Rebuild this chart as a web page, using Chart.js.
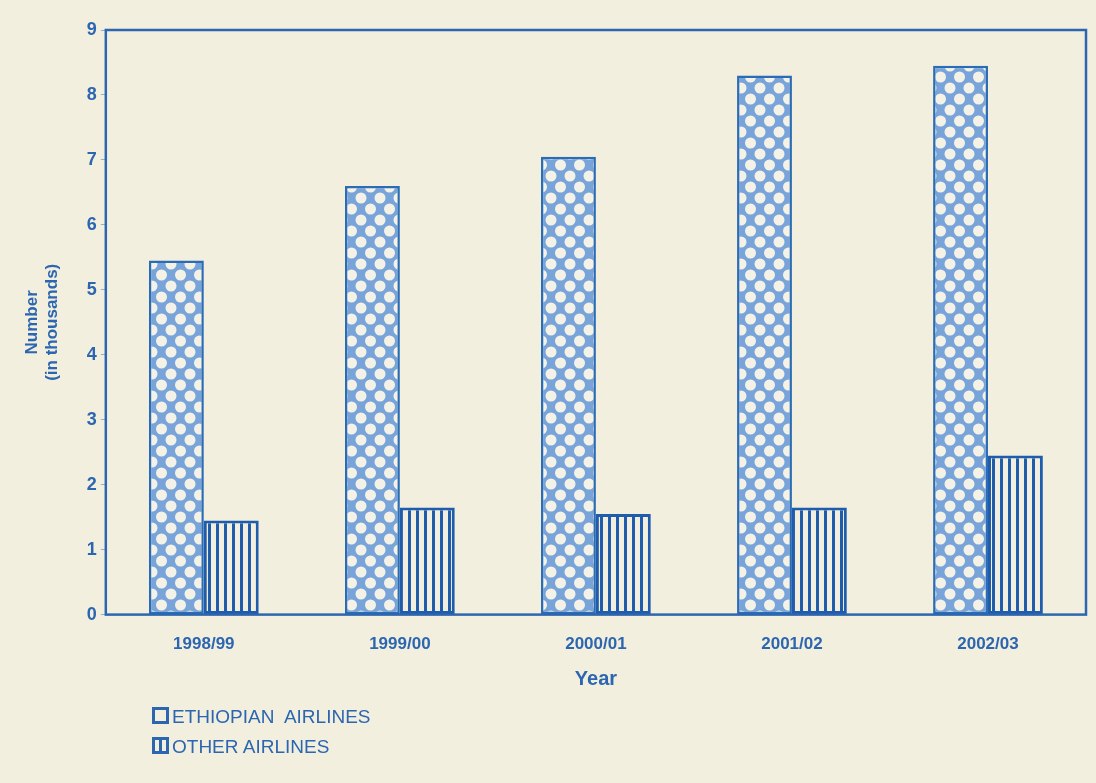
<!DOCTYPE html>
<html>
<head>
  <title>Employees of airlines</title>
  <script src="https://cdn.jsdelivr.net/npm/chart.js"></script>
  <style>
    body { margin: 0; background: #f2efdf; }
    #wrap { position: relative; width: 1096px; height: 783px; }
    #legend {
      position: absolute; left: 152px; top: 702px;
      font-family: "Liberation Sans", Arial, sans-serif;
      font-size: 19px; color: #2c66b0; line-height: 30px;
    }
    #legend span.box {
      display: inline-block; width: 11px; height: 11px; margin-right: 3px;
      border: 3px solid #2c66b0; vertical-align: -1px;
    }
  </style>
</head>
<body>
<div id="wrap">
  <canvas id="myChart" width="1096" height="783"></canvas>
  <div id="legend"></div>
</div>
<script>
  // datos (miles)
  var years = ['1998/99', '1999/00', '2000/01', '2001/02', '2002/03'];
  var ethiopian = [5.45, 6.6, 7.05, 8.3, 8.45];
  var others = [1.45, 1.65, 1.55, 1.65, 2.45];
  var yTicks = [0, 1, 2, 3, 4, 5, 6, 7, 8, 9];

  var blue = '#2c66b0';
  var paper = '#f2efdf';

  // relleno de diamantes para Ethiopian Airlines
  function diamondPattern() {
    var c = document.createElement('canvas');
    c.width = 19; c.height = 22;
    var g = c.getContext('2d');
    g.fillStyle = '#78a4da';
    g.fillRect(0, 0, 19, 22);
    g.fillStyle = '#f4f2e6';
    var pts = [[0, 0], [19, 0], [0, 22], [19, 22], [9.5, 11]];
    pts.forEach(function (p) {
      g.beginPath();
      g.arc(p[0], p[1], 5.5, 0, Math.PI * 2);
      g.fill();
    });
    return g.createPattern(c, 'repeat');
  }

  // rayas verticales para otras aerolineas
  function stripePattern() {
    var c = document.createElement('canvas');
    c.width = 8; c.height = 8;
    var g = c.getContext('2d');
    g.fillStyle = paper;
    g.fillRect(0, 0, 8, 8);
    g.fillStyle = '#1f5cab';
    g.fillRect(0, 0, 3, 8);
    return g.createPattern(c, 'repeat');
  }

  // marco alrededor del area del grafico
  var frame = {
    id: 'frame',
    afterDatasetsDraw: function (chart) {
      var a = chart.chartArea;
      var ctx = chart.ctx;
      ctx.save();
      ctx.strokeStyle = blue;
      ctx.lineWidth = 2.5;
      ctx.strokeRect(a.left, a.top, a.right - a.left, a.bottom - a.top);
      ctx.restore();
    }
  };

  var ctx = document.getElementById('myChart').getContext('2d');
  var chart = new Chart(ctx, {
    type: 'bar',
    data: {
      labels: years,
      datasets: [
        {
          label: 'ETHIOPIAN  AIRLINES',
          data: ethiopian,
          backgroundColor: diamondPattern(),
          borderColor: '#2a6cb6',
          borderWidth: 2.5,
          borderSkipped: false,
          barPercentage: 1.0,
          categoryPercentage: 0.56
        },
        {
          label: 'OTHER AIRLINES',
          data: others,
          backgroundColor: stripePattern(),
          borderColor: '#1f5cab',
          borderWidth: 3,
          borderSkipped: false,
          barPercentage: 1.0,
          categoryPercentage: 0.56
        }
      ]
    },
    plugins: [frame],
    options: {
      responsive: false,
      animation: false,
      layout: { padding: { left: 18, right: 10, top: 30, bottom: 88 } },
      plugins: {
        legend: { display: false },
        tooltip: { enabled: false }
      },
      scales: {
        x: {
          grid: { display: false },
          border: { display: false },
          ticks: {
            color: blue,
            font: { family: 'Liberation Sans', size: 17, weight: 'bold' },
            padding: 12
          },
          title: {
            display: true,
            text: 'Year',
            color: blue,
            font: { family: 'Liberation Sans', size: 20, weight: 'bold' },
            padding: { top: 0 }
          }
        },
        y: {
          min: 0,
          max: 9,
          afterBuildTicks: function (axis) {
            axis.ticks = yTicks.map(function (v) { return { value: v }; });
          },
          grid: { drawOnChartArea: false, drawTicks: true, tickLength: 5, color: '#8fb0d8' },
          border: { display: false },
          ticks: {
            color: blue,
            font: { family: 'Liberation Sans', size: 18, weight: 'bold' },
            padding: 4
          },
          title: {
            display: true,
            text: ['Number', '(in thousands)'],
            color: blue,
            font: { family: 'Liberation Sans', size: 17, weight: 'bold' },
            padding: { bottom: 20 }
          }
        }
      }
    }
  });

  // leyenda en HTML debajo del grafico
  var leg = document.getElementById('legend');
  chart.data.datasets.forEach(function (ds, i) {
    var row = document.createElement('div');
    var box = '<span class="box" style="' +
      (i == 0 ? 'background:#f2efdf' : 'background:linear-gradient(90deg,#f2efdf 35%,#2c66b0 35%,#2c66b0 65%,#f2efdf 65%)') +
      '"></span>';
    row.innerHTML = box + ds.label.replace(/  /g, '&nbsp; ');
    leg.appendChild(row);
  });
</script>
</body>
</html>
